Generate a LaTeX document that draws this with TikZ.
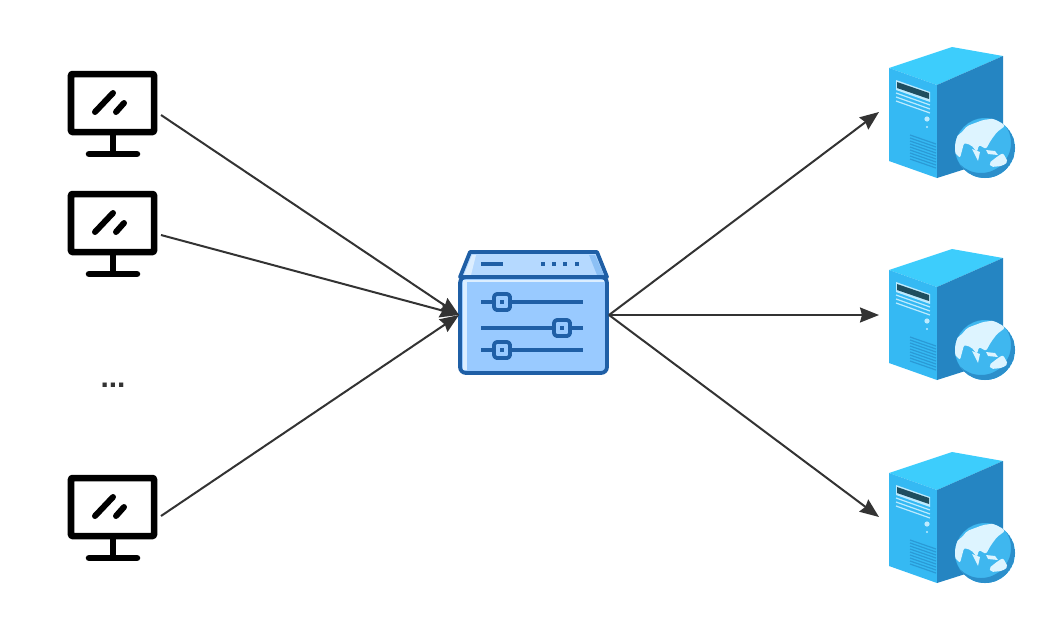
\documentclass[tikz,border=0pt]{standalone}
\usepackage{fontspec}
\setmainfont{Liberation Sans}
\usetikzlibrary{arrows.meta}

\definecolor{linkgray}{HTML}{333333}
\definecolor{gateblue}{HTML}{1F5FA6}
\definecolor{gatebody}{HTML}{99CAFF}
\definecolor{gatetop}{HTML}{B5D9FF}
\definecolor{gateside}{HTML}{8CC0F5}
\definecolor{gatelight}{HTML}{DCEEFF}
\definecolor{srvtop}{HTML}{3DCDFC}
\definecolor{srvleft}{HTML}{35B9F3}
\definecolor{srvright}{HTML}{2585C2}
\definecolor{srvvent}{HTML}{2A9AD6}
\definecolor{srvlight}{HTML}{BDEBFF}
\definecolor{srvslot}{HTML}{1F4E5F}
\definecolor{globeblue}{HTML}{3FB7EF}
\definecolor{globedark}{HTML}{2C8FCB}
\definecolor{globeland}{HTML}{DDF4FF}

\tikzset{
  x=0.01cm, y=-0.01cm,
  link/.style={draw=linkgray, line width=0.02cm, -{Stealth[length=0.19cm,width=0.15cm,inset=0.02cm]}},
  screenline/.style={line width=0.065cm, line cap=round, line join=round},
  gateline/.style={draw=gateblue, line width=0.038cm, line join=round},
  monitor/.pic={
    \draw[screenline, rounded corners=0.01cm] (-42,-41) rectangle (41,17);
    \draw[screenline, line cap=butt] (0,20) -- (0,37);
    \draw[screenline] (-24,39) -- (24,39);
    \draw[line width=0.06cm, line cap=round] (-18,-3) -- (0,-22);
    \draw[line width=0.06cm, line cap=round] (3,-3) -- (11,-12);
    \coordinate (-out) at (48,0);
  },
  knob/.pic={
    \draw[gateline, fill=gatebody, rounded corners=0.03cm] (-8,-8) rectangle (8,8);
    \fill[gateblue] (-2,-2) rectangle (2,2);
  },
  gateway/.pic={
    \draw[gateline, fill=gatetop] (-73,-38) -- (-63,-63) -- (64,-63) -- (74,-38) -- cycle;
    \fill[gatelight] (-69,-40) -- (-61,-60) -- (-57,-60) -- (-62,-40) -- cycle;
    \fill[gateside] (64,-40) -- (56,-60) -- (62,-60) -- (71,-40) -- cycle;
    \draw[gateline, fill=gatebody, rounded corners=0.06cm] (-73,-38) rectangle (74,58);
    \fill[gatelight] (-70,-35) rectangle (71,-33);
    \fill[gatelight] (-70,-35) rectangle (-66,55);
    \draw[gateline] (-52,-51) -- (-30,-51);
    \foreach \dotx in {10,21,32,44} {
      \fill[gateblue] (\dotx-2,-53) rectangle (\dotx+2,-49);
    }
    \draw[gateline] (-52,-13) -- (50,-13);
    \draw[gateline] (-52,13) -- (50,13);
    \draw[gateline] (-52,35) -- (50,35);
    \pic at (-31,-13) {knob};
    \pic at (29,13) {knob};
    \pic at (-31,35) {knob};
    \coordinate (-in) at (-74,0);
    \coordinate (-out) at (76,0);
  },
  server/.pic={
    \fill[srvtop] (0,21) -- (63,0) -- (114,9) -- (48,38) -- cycle;
    \fill[srvleft] (0,21) -- (48,38) -- (48,131) -- (0,114) -- cycle;
    \fill[srvright] (48,38) -- (114,9) -- (114,110) -- (48,131) -- cycle;
    \fill[srvlight] (7,33) -- (41,45) -- (41,55) -- (7,43) -- cycle;
    \fill[srvslot] (8,35) -- (40,46) -- (40,52) -- (8,41) -- cycle;
    \foreach \liney in {46,50,54} {
      \draw[srvlight, line width=0.012cm] (7,\liney) -- (41,\liney+12);
    }
    \fill[srvlight] (38,72) circle (2.6);
    \fill[srvlight] (38,80) circle (1.1);
    \foreach \liney in {0,...,8} {
      \draw[srvvent, line width=0.012cm] (21,88+\liney*3) -- (47,97+\liney*3);
    }
    \begin{scope}[shift={(96,101)}]
      \fill[globeblue] (0,0) circle (30);
      \begin{scope}
        \clip (0,0) circle (30);
        \fill[globedark, even odd rule] (0,0) circle (30) (-4,-5) circle (30);
        \fill[globeland, rounded corners=0.02cm] (-30,-10) -- (-22,-17) -- (-18,-22) -- (-2,-28) -- (13,-30) -- (20,-22) -- (12,-16) -- (6,-8) -- (1,1) -- (-6,-3) -- (-8,4) -- (-14,-3) -- (-21,-5) -- (-25,10) -- (-31,4) -- cycle;
        \fill[globeland] (-13,1) -- (-5,4) -- (-7,13) -- cycle;
        \fill[globeland] (1,2) -- (10,3) -- (13,7) -- (3,6) -- cycle;
        \fill[globeland, rounded corners=0.02cm] (4,15) -- (13,8) -- (18,5) -- (23,14) -- (17,18) -- (6,19) -- cycle;
      \end{scope}
    \end{scope}
  }
}

\begin{document}
\begin{tikzpicture}
\useasboundingbox (0,0) rectangle (1064,630);
\pic (pcone) at (113,115) {monitor};
\pic (pctwo) at (113,235) {monitor};
\pic (pcthree) at (113,519) {monitor};
\coordinate (pcthree-out) at (161,516);
\node[font=\bfseries\fontsize{8.5}{10}\selectfont, text=linkgray, inner sep=0pt] (more) at (113,385) {...};
\pic (gate) at (533,315) {gateway};
\pic (srvone) at (889,47) {server};
\pic (srvtwo) at (889,249) {server};
\pic (srvthree) at (889,452) {server};
\coordinate (srvone-in) at (879,112);
\coordinate (srvtwo-in) at (879,315);
\coordinate (srvthree-in) at (879,517);
\draw[link] (pcone-out) -- (gate-in);
\draw[link] (pctwo-out) -- (gate-in);
\draw[link] (pcthree-out) -- (gate-in);
\draw[link] (gate-out) -- (srvone-in);
\draw[link] (gate-out) -- (srvtwo-in);
\draw[link] (gate-out) -- (srvthree-in);
\end{tikzpicture}
\end{document}
